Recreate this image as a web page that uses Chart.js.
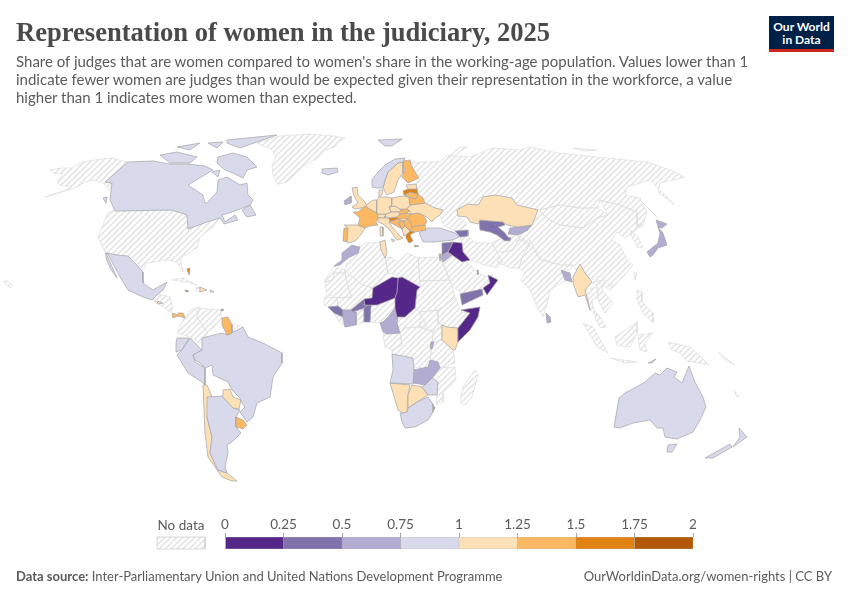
<!DOCTYPE html>
<html>
<head>
<meta charset="utf-8">
<title>Representation of women in the judiciary, 2025</title>
<script src="https://cdn.jsdelivr.net/npm/chart.js@4"></script>
<style>
  html, body { margin: 0; padding: 0; background: #fff; }
  #page { position: relative; width: 850px; height: 600px; overflow: hidden; font-family: Lato, sans-serif; }
  #page div { position: absolute; white-space: nowrap; }
  #mapChart { position: absolute; left: 0; top: 0; }
  #scaleChart { position: absolute; left: 200px; top: 516px; }
  #title { left: 16px; top: 14px; font: bold 26.55px/36px "Liberation Serif", serif; color: #4a4a4a; }
  #sub { left: 16px; top: 52px; font-size: 15px; line-height: 18px; color: #5b5b5b; }
  #logo { left: 769px; top: 16px; width: 65px; height: 33px; background: #002147; border-bottom: 3px solid #ce261e; color: #fff; font-weight: 700; font-size: 12px; line-height: 13px; text-align: center; }
  #logo span { display: block; margin-top: 4px; }
  #noData { left: 157px; top: 517px; width: 48px; text-align: center; font-size: 13.5px; color: #5b5b5b; }
  #source { left: 16px; top: 568px; font-size: 13px; color: #5b5b5b; }
  #source b { font-weight: 700; }
  #link { right: 18px; top: 568px; font-size: 13px; color: #5b5b5b; }
</style>
</head>
<body>
<div id="page">
  <canvas id="mapChart" width="850" height="600"></canvas>
  <canvas id="scaleChart" width="520" height="50"></canvas>
  <div id="title">Representation of women in the judiciary, 2025</div>
  <div id="sub">Share of judges that are women compared to women's share in the working-age population. Values lower than 1<br>indicate fewer women are judges than would be expected given their representation in the workforce, a value<br>higher than 1 indicates more women than expected.</div>
  <div id="logo"><span>Our World<br>in Data</span></div>
  <div id="noData">No data</div>
  <div id="source"><b>Data source:</b> Inter-Parliamentary Union and United Nations Development Programme</div>
  <div id="link">OurWorldinData.org/women-rights | CC BY</div>
</div>
<script>
// colour scale
const binEdges = [0, 0.25, 0.5, 0.75, 1, 1.25, 1.5, 1.75, 2];
const binColors = ["#542788", "#8073ac", "#b2abd2", "#d8daeb", "#fee0b6", "#fdb863", "#e08214", "#b35806"];
const tickLabels = ["0", "0.25", "0.5", "0.75", "1", "1.25", "1.5", "1.75", "2"];

// no data swatch in the legend, map units
const noDataSwatch = [157,537, 205,537, 205,549, 157,549];

// countries with no value, outlines are flat x,y lists in map units
const noDataNames = ["Alaska","USA","Hawaii","Greenland","Cuba","Haiti","Guatemala","Colombia","Venezuela","Suriname","Russia","Sakhalin","Novaya Zemlya","Severnaya Zemlya","Mongolia","China","N Korea","India","Pakistan","Afghanistan","Iran","Thailand","Vietnam","Malaysia","Sumatra","Java","Borneo","Sulawesi","Philippines","Taiwan","Hainan","New Guinea","Solomon","New Caledonia","Algeria","Libya","Egypt","W Sahara","Mauritania","Mali","Ghana","Nigeria","Senegal","Liberia","Sudan","South Sudan","CAR","Ethiopia","DRC","Congo","Uganda","Tanzania","Mozambique","Madagascar","Saudi Arabia"];
const noDataOutlines = [
  [128,162,110,158,95,160,83,162,72,168,62,168,50,170,55,174,63,173,60,178,57,183,62,186,72,186,66,190,45,197,62,192,75,188,85,182,93,180,103,183,110,190,112,183,105,182],
  [115,211,172,210,187,215,188,229,207,222,220,218,213,227,200,237,197,248,180,258,183,272,177,262,167,260,147,263,143,270,133,258,117,255,105,252,98,237,105,220,108,212],
  [3,281,8,281,12,285,11,288,7,285],
  [257,143,270,139,280,136,310,134,333,136,345,138,338,142,335,147,325,150,318,158,305,165,297,172,287,182,280,184,277,184,273,175,272,165,276,157,272,150],
  [172,280,183,278,197,285,187,282],
  [196,287,200,287,200,292,196,291],
  [152,300,158,294,170,297,173,310,170,312,160,305],
  [190,310,200,307,197,317,208,333,200,343,190,337,177,333,183,320],
  [197,308,220,310,222,318,213,328,207,333,197,317],
  [230,323,243,327,245,335,232,333],
  [417,163,420,162,440,162,447,155,470,157,493,148,520,150,530,147,558,153,597,157,647,162,670,170,685,177,673,180,660,183,658,192,675,205,660,190,650,180,627,187,625,195,640,198,647,213,643,225,637,227,637,212,620,205,600,200,598,208,580,208,560,205,540,210,538,210,517,205,512,198,495,195,483,197,478,205,467,204,457,210,458,216,467,224,462,229,455,231,445,226,442,222,440,215,443,210,435,208,425,203,423,198,418,194,417,189,416,184,419,178,415,172,410,160],
  [640,200,645,205,658,218,650,210],
  [447,158,460,147,467,147,452,157],
  [573,148,597,150,583,151],
  [540,210,560,205,580,208,598,208,608,215,597,218,583,228,560,225,550,220,540,212],
  [540,212,550,220,560,225,583,228,597,218,608,215,600,200,620,205,637,212,637,225,643,225,625,238,617,232,612,240,620,245,628,262,633,265,625,275,610,290,595,280,580,275,573,265,560,265,540,260,533,248,520,240,518,235,530,227,532,225,538,215],
  [630,230,638,237,643,247,638,248,632,237],
  [530,240,540,258,560,265,573,265,570,270,562,270,566,280,550,290,547,305,543,317,537,307,530,290,521,280,525,272,519,268,523,255,528,247],
  [525,240,530,245,523,255,519,268,510,268,497,262,503,252,513,250,518,240],
  [497,240,518,235,525,240,518,240,513,250,503,252,497,252,492,243],
  [460,237,468,236,475,243,492,243,497,252,503,262,497,268,485,265,470,260,463,252,462,243],
  [585,290,597,287,598,297,592,300,594,310,600,317,590,310,587,297],
  [592,282,605,280,602,290,613,303,605,313,598,300,598,293,597,287],
  [594,312,600,317,606,327,601,328,596,320],
  [583,323,593,327,608,353,597,347],
  [610,358,637,362,625,363],
  [615,337,637,322,637,333,630,347,617,345],
  [638,335,653,333,645,343,647,352,640,350],
  [637,290,642,292,642,302,653,313,653,323,643,313,637,300],
  [634,273,637,273,635,280],
  [608,285,613,285,611,289],
  [668,342,690,347,702,358,709,365,693,362,687,361,680,353,672,350],
  [718,352,725,358,735,365,727,361],
  [734,390,739,397,736,396],
  [358,253,360,247,365,243,383,242,385,257,388,273,373,288,363,285,345,270,348,258],
  [385,258,390,257,398,262,407,253,418,258,420,285,417,287,402,277,388,273],
  [418,258,433,257,441,258,445,268,450,280,420,281],
  [334,266,345,270,345,273,334,273,333,280,324,282],
  [325,282,333,280,334,273,345,273,349,290,352,297,337,298,330,295,327,297],
  [345,272,363,285,373,288,372,298,365,300,363,300,351,310,343,310,338,306,337,298,352,297,349,290],
  [356,312,364,308,364,322,356,325],
  [370,305,377,305,395,298,397,308,388,317,383,322,380,323,370,322],
  [324,297,337,298,338,306,328,307,324,305],
  [334,313,343,317,345,327,338,320],
  [420,281,450,280,455,297,450,302,438,310,420,312,415,308,417,290,420,287],
  [420,312,438,310,438,323,442,325,433,332,420,327],
  [398,318,397,317,405,317,415,308,420,312,427,327,420,327,405,328,400,333,397,323],
  [450,302,455,297,458,305,462,312,470,313,458,328,447,327,442,325,438,323,438,310],
  [400,333,405,328,420,327,433,332,432,347,430,358,425,368,413,367,413,358,392,355,392,350,402,345],
  [383,334,387,334,400,333,402,345,392,350,385,347],
  [433,332,438,323,442,325,442,340,432,343],
  [432,343,442,340,453,350,455,363,442,368,430,358,432,347],
  [440,368,455,367,456,380,443,393,443,402,436,405,437,395,438,383,432,378],
  [475,370,478,375,472,397,465,405,460,402,463,387],
  [442,263,453,255,468,263,477,272,487,277,493,275,483,290,462,293,453,287]
];

// countries with a value (estimated from the colour on the map)
const countries = ["Canada","Victoria I","Banks I","Devon I","Baffin I","Ellesmere I","Newfoundland","Vancouver I","Southampton I","Mexico","Baja","Iceland","Svalbard","Bahamas","Dominican Rep","Jamaica","Puerto Rico","Trinidad","Honduras","Panama","Guyana","Brazil","Ecuador","Peru","Paraguay","Uruguay","Argentina","Chile","Norway","Sweden","Finland","Estonia","Latvia","Lithuania","Belarus","Ukraine","Poland","Germany","Denmark","France","Spain","Portugal","UK","Ireland","Italy","Sardinia","Sicily","Benelux","Switzerland","Austria","Czechia","Slovakia","Hungary","Romania","Bulgaria","Serbia","Croatia","Bosnia","Slovenia","Albania","Greece","Crete","Turkey","Azerbaijan","Syria","Jordan","Iraq","Kazakhstan","Uzbekistan","Kyrgyzstan","Tajikistan","Bangladesh","Myanmar","Sri Lanka","Japan","Australia","Tasmania","NZ South","NZ North","Timor","Morocco","Tunisia","Niger","Chad","Burkina Faso","Benin","Cote d'Ivoire","Guinea","Cameroon","Somalia","Kenya","Burundi","Angola","Zambia","Zimbabwe","Botswana","Namibia","South Africa","Lesotho","Eswatini","Oman","Yemen","Bahrain","Israel"];
const ratios = [0.88,0.88,0.88,0.88,0.88,0.88,0.88,0.88,0.88,0.9,0.9,0.85,0.85,1.6,1.1,1.8,1.2,1.4,1.15,1.4,1.4,0.85,0.9,0.9,1.1,1.4,0.9,1.15,0.85,1.1,1.3,1.2,1.55,1.3,1.35,1.15,1.15,1.05,1.05,1.3,1.1,1.3,1.05,0.7,1.05,1.05,1.05,1.02,1.05,1.1,1.1,1.3,1.35,1.4,1.3,1.35,1.35,1.3,1.55,1.1,1.6,1.6,0.85,0.45,0.4,0.6,0.12,1.1,0.4,0.65,0.4,0.6,1.1,0.6,0.6,0.85,0.85,0.85,0.85,0.8,0.6,1.1,0.1,0.1,0.4,0.4,0.6,0.4,0.6,0.1,1.1,0.6,0.85,0.6,0.85,1.1,1.1,0.9,1.3,0.6,0.1,0.4,0.15,1.4];
const outlines = [
  [128,162,153,161,170,164,188,164,205,166,213,170,188,185,203,195,205,203,207,203,217,192,218,180,227,177,240,185,247,183,248,195,253,200,250,205,232,212,222,215,225,222,235,215,238,220,224,224,220,218,207,222,188,229,187,215,172,210,115,211,110,200,112,183,105,182],
  [160,155,177,152,197,157,190,163,170,163],
  [177,147,200,143,190,150],
  [208,143,223,142,217,148],
  [218,157,233,153,247,157,257,167,247,170,243,178,233,173,225,170,217,163],
  [227,140,277,135,257,142,240,148,227,143],
  [242,210,250,205,256,215,247,217],
  [103,198,107,197,106,203],
  [212,172,220,170,218,177],
  [105,253,117,255,128,256,135,263,143,272,143,283,153,290,167,282,163,290,157,295,152,300,143,297,128,290,120,277,112,262,108,254],
  [106,253,110,262,117,278,110,268,106,258],
  [322,169,337,168,338,172,328,175,322,173],
  [378,140,402,139,392,146,385,146],
  [187,269,190,268,189,275],
  [200,287,207,290,200,292],
  [185,290,189,291,186,292],
  [210,290,214,292,210,292],
  [221,309,223,309,223,311,221,311],
  [157,301,163,303,158,304],
  [172,313,178,315,178,313,183,313,185,318,178,316,173,318],
  [222,318,228,317,232,325,232,333,227,335,222,325],
  [195,360,193,355,202,350,202,338,222,333,228,335,243,327,248,337,263,343,282,353,282,363,273,377,270,397,257,403,253,417,247,422,240,412,245,407,242,403,240,398,232,390,228,382,213,375,212,365,205,368,200,363],
  [177,338,189,338,182,350,176,352,176,343],
  [190,338,202,350,193,355,195,362,205,368,205,385,202,382,188,373,177,355,182,350],
  [222,396,223,390,230,389,233,397,241,400,239,409,233,408],
  [236,417,243,420,247,425,243,429,236,427],
  [207,397,222,396,233,408,240,410,236,417,236,427,241,433,232,442,227,445,228,453,225,467,227,473,218,470,210,453,212,437,207,417],
  [203,385,207,385,212,397,207,417,212,437,210,453,218,470,227,473,237,481,232,481,222,477,208,457,205,433,204,410],
  [372,187,372,180,378,172,385,165,395,159,405,158,403,162,398,163,388,172,385,180,383,188,377,188],
  [385,180,388,172,398,163,403,162,403,173,398,180,396,186,394,192,387,195,383,188],
  [403,161,410,160,411,165,415,172,419,178,408,183,402,177,405,170,403,165],
  [406,185,416,184,417,189,408,189],
  [403,191,408,189,417,189,418,194,410,192,404,195],
  [404,195,410,192,418,194,416,199,409,197],
  [409,197,416,199,418,194,423,198,425,203,410,205],
  [410,205,425,203,435,208,443,210,440,215,435,218,432,222,428,218,423,215,418,213,411,214,410,211,407,209],
  [392,198,403,196,409,197,410,205,407,209,400,209,395,206,389,207,392,205],
  [377,200,379,197,387,197,392,198,392,205,389,207,391,212,386,214,377,214,377,207],
  [379,190,383,190,382,195,379,197],
  [353,212,358,212,365,206,371,210,377,213,377,214,378,218,376,222,378,225,370,226,365,228,358,225,360,218],
  [344,225,358,225,365,228,362,233,358,238,355,241,349,243,347,242,348,228],
  [344,228,348,228,347,242,343,241],
  [352,188,357,187,358,195,365,202,367,207,355,209,352,207,358,203,354,196],
  [344,201,351,196,351,203,345,205],
  [378,218,385,218,388,218,390,220,389,222,393,228,400,236,403,238,398,240,396,239,390,230,383,224,378,222],
  [380,227,383,227,383,236,380,236],
  [391,239,395,240,393,242],
  [365,206,369,203,373,200,377,200,377,207,377,213,371,210],
  [377,214,386,214,385,216,385,218,378,218],
  [386,214,391,212,398,212,400,214,397,217,388,218,385,216],
  [389,207,395,206,400,209,402,210,398,212,391,212],
  [400,209,407,209,410,211,407,213,400,214,398,212,402,210],
  [400,214,407,213,411,214,407,219,398,219,397,217],
  [407,219,411,214,418,213,423,215,427,221,425,225,415,226,412,227,411,222],
  [412,227,415,226,425,225,426,230,415,232,410,231],
  [404,221,407,219,411,222,412,227,410,231,405,226],
  [392,221,398,219,404,221,398,222,402,229,393,224,389,222],
  [398,222,404,221,405,226,402,229],
  [388,218,397,217,398,219,392,221,389,221],
  [402,229,405,226,410,231,406,235,404,236],
  [406,235,410,231,415,232,413,233,410,235,413,241,409,243,406,238],
  [414,245,419,246,415,247],
  [419,233,428,228,440,228,455,233,459,237,453,240,435,242,423,242],
  [455,231,468,230,468,236,460,237],
  [442,243,453,242,448,252,442,255],
  [440,256,448,253,452,255,443,262],
  [453,242,462,243,463,252,470,260,462,262,448,252],
  [457,210,467,204,478,205,483,197,495,195,512,198,517,205,538,210,532,225,518,227,507,225,503,222,480,220,478,224,470,222,467,217,458,216],
  [479,220,503,222,505,225,498,227,505,233,510,240,505,241,497,235,490,232,480,230],
  [510,228,518,227,532,225,528,230,518,235,508,234],
  [507,237,511,238,510,241,506,240],
  [561,270,570,273,572,282,565,280],
  [580,264,585,273,592,282,585,290,587,297,590,310,585,295,578,297,573,283,573,277],
  [546,313,550,317,551,322,547,323],
  [656,220,667,224,662,228,658,227,663,233,667,245,658,248,653,255,650,257,647,252,658,243,660,233],
  [614,427,619,398,625,393,640,385,645,382,655,373,660,375,667,368,677,372,674,377,682,383,689,366,695,382,703,397,706,407,700,420,693,432,677,439,665,437,663,428,657,428,650,420,633,423,620,428],
  [668,445,677,444,672,452,667,452],
  [705,458,730,444,732,447,713,458],
  [739,428,747,437,733,447,740,437],
  [648,363,656,359,652,363],
  [342,253,352,245,360,247,358,253,348,258,340,265,334,266,342,260],
  [380,242,385,240,387,253,385,258,381,250],
  [373,288,392,277,398,278,397,292,395,298,377,305,365,305,364,299,372,298],
  [398,278,402,277,420,287,417,290,415,308,405,317,397,317,395,308,395,298,397,292],
  [351,310,363,300,365,300,364,305,368,305,364,308,353,312],
  [364,308,368,305,371,305,370,322,364,322],
  [343,310,351,310,353,312,356,312,356,325,345,327,343,317],
  [328,307,338,306,343,310,343,317,334,313],
  [380,323,383,322,388,317,395,308,397,317,398,318,397,323,400,333,387,334,383,332],
  [461,310,480,307,478,317,470,330,458,342,458,328,470,313],
  [442,325,447,327,458,328,458,342,455,350,453,350,442,340],
  [431,342,434,342,432,349,430,348],
  [392,354,413,358,414,370,413,384,390,383,393,370],
  [413,370,428,367,430,360,438,362,440,368,432,378,425,385,413,383],
  [425,385,432,378,438,382,437,395,428,395,422,387],
  [412,385,422,387,428,395,417,402,408,408,408,395],
  [390,383,410,385,408,395,407,412,403,413,398,410,393,393],
  [407,412,408,408,417,402,428,397,433,404,433,412,428,420,415,427,405,428,402,422,400,413,403,413],
  [423,416,428,413,428,415,425,418],
  [432,406,435,407,434,410,432,409],
  [488,275,498,280,487,295,483,288,490,283],
  [460,294,482,289,483,295,462,305],
  [477,270,478,270,478,275],
  [439,254,441,254,440,261]
];

function binColor(v) {
  for (let i = 0; i < binColors.length; i++) {
    if (v < binEdges[i + 1]) return binColors[i];
  }
  return binColors[binColors.length - 1];
}

function toPoints(flat) {
  const pts = [];
  for (let i = 0; i < flat.length; i += 2) pts.push({ x: flat[i], y: flat[i + 1] });
  pts.push({ x: flat[0], y: flat[1] }); // close the ring
  return pts;
}

// hatching used for no data
const tile = document.createElement("canvas");
tile.width = 6;
tile.height = 6;
const t = tile.getContext("2d");
t.strokeStyle = "#e2e2e2";
t.lineWidth = 1.5;
t.beginPath();
t.moveTo(-1, 1); t.lineTo(1, -1);
t.moveTo(0, 6); t.lineTo(6, 0);
t.moveTo(5, 7); t.lineTo(7, 5);
t.stroke();
const hatch = document.createElement("canvas").getContext("2d").createPattern(tile, "repeat");

const shapeDefaults = { showLine: true, fill: "shape", tension: 0, pointRadius: 0, pointHoverRadius: 0, borderJoinStyle: "round" };

const datasets = [];
noDataOutlines.forEach((outline, i) => {
  datasets.push({ ...shapeDefaults, label: noDataNames[i], data: toPoints(outline), backgroundColor: hatch, borderColor: "#dcdcdc", borderWidth: 0.7, order: 2 });
});
datasets.push({ ...shapeDefaults, label: "No data", data: toPoints(noDataSwatch), backgroundColor: hatch, borderColor: "#cfcfcf", borderWidth: 0.8, order: 2 });
outlines.forEach((outline, i) => {
  datasets.push({ ...shapeDefaults, label: countries[i], data: toPoints(outline), backgroundColor: binColor(ratios[i]), borderColor: "#a3a3a8", borderWidth: 0.7, order: 1 });
});

new Chart(document.getElementById("mapChart"), {
  type: "scatter",
  data: { datasets },
  options: {
    responsive: false,
    animation: false,
    events: [],
    layout: { padding: 0 },
    scales: {
      x: { type: "linear", min: 0, max: 850, display: false },
      y: { type: "linear", min: 0, max: 600, reverse: true, display: false }
    },
    plugins: { legend: { display: false }, tooltip: { enabled: false }, filler: { propagate: false } }
  }
});

// legend bar, one stacked segment per bin
new Chart(document.getElementById("scaleChart"), {
  type: "bar",
  data: {
    labels: ["share"],
    datasets: binColors.map((c, i) => ({
      data: [binEdges[i + 1] - binEdges[i]],
      backgroundColor: c,
      borderColor: "#9a9a9a",
      borderWidth: 0.5,
      barPercentage: 1,
      categoryPercentage: 1
    }))
  },
  options: {
    indexAxis: "y",
    responsive: false,
    animation: false,
    events: [],
    layout: { padding: { left: 25, right: 27, top: 0, bottom: 17 } },
    scales: {
      x: {
        position: "top",
        stacked: true,
        min: 0,
        max: 2,
        afterFit: (axis) => { axis.height = 21; }, // 50px canvas would otherwise cap the axis at half height
        ticks: {
          stepSize: 0.25,
          autoSkip: false,
          maxRotation: 0,
          padding: 0,
          color: "#5b5b5b",
          font: { family: "Lato", size: 13.5 },
          callback: (v, i) => tickLabels[i]
        },
        grid: { drawOnChartArea: false, tickLength: 4, color: "#a8a8a8" },
        border: { display: false }
      },
      y: { stacked: true, display: false }
    },
    plugins: { legend: { display: false }, tooltip: { enabled: false } }
  }
});
</script>
</body>
</html>
